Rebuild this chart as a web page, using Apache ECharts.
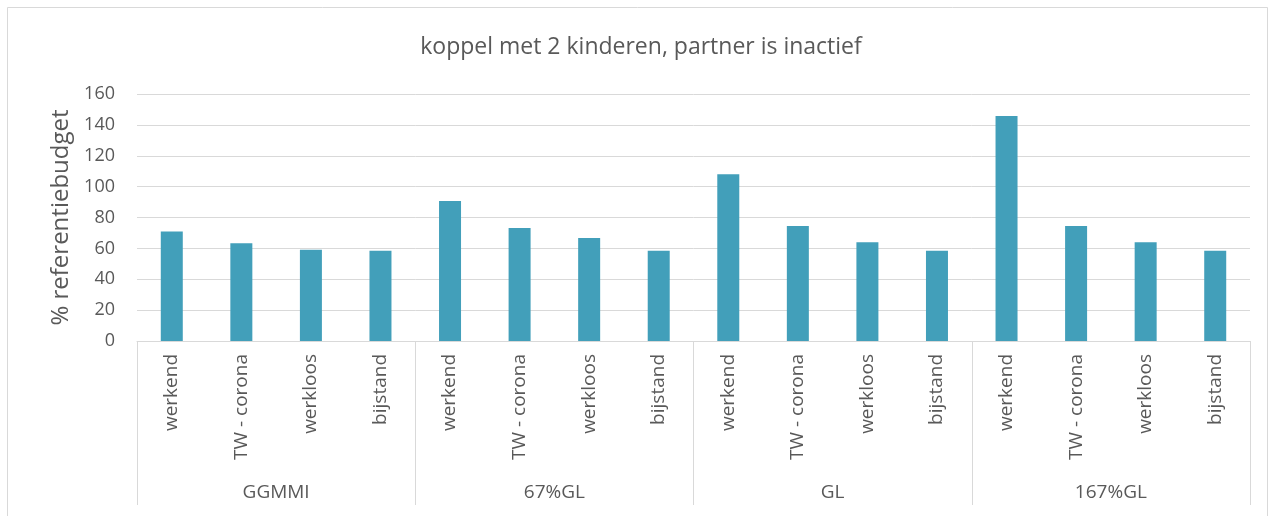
<!DOCTYPE html>
<html>
<head>
<meta charset="utf-8">
<script src="https://cdn.jsdelivr.net/npm/echarts@6/dist/echarts.min.js"></script>
<style>
html,body{margin:0;padding:0;background:#fff;}
#c{width:1282px;height:516px;}
</style>
</head>
<body>
<div id="c"></div>
<script>
const titleText = 'koppel met 2 kinderen, partner is inactief';
const yAxisName = '% referentiebudget';
const groups = ['GGMMI', '67%GL', 'GL', '167%GL'];
const statuses = ['werkend', 'TW - corona', 'werkloos', 'bijstand'];
const values = [
  71, 63.3, 59.1, 58.5,
  90.7, 73.2, 66.7, 58.5,
  108, 74.5, 63.9, 58.5,
  145.7, 74.5, 63.9, 58.5
];
const yTicks = [0, 20, 40, 60, 80, 100, 120, 140, 160];

const categories = [];
groups.forEach(function (g) { statuses.forEach(function (s) { categories.push(s); }); });

const FONT = 'Open Sans';
const TXT = '#595959';
const GRIDC = '#d9d9d9';

const chart = echarts.init(document.getElementById('c'), null, {renderer: 'canvas'});
chart.setOption({
  animation: false,
  backgroundColor: '#ffffff',
  textStyle: {fontFamily: FONT, color: TXT},
  title: {
    text: titleText,
    left: 'center',
    top: 31,
    textStyle: {fontFamily: FONT, fontSize: 23, fontWeight: 'normal', color: TXT}
  },
  graphic: [{
    type: 'rect',
    shape: {x: 7.5, y: 7.5, width: 1260, height: 520},
    style: {fill: 'none', stroke: GRIDC, lineWidth: 1},
    silent: true
  }],
  grid: {left: 137, right: 32, top: 94, bottom: 175},
  xAxis: [{
    type: 'category',
    data: categories,
    position: 'bottom',
    axisLine: {show: true, lineStyle: {color: GRIDC, width: 1}},
    axisTick: {show: false},
    axisLabel: {interval: 0, rotate: 90, margin: 13, fontSize: 19, color: TXT, fontFamily: FONT}
  }, {
    type: 'category',
    data: groups,
    position: 'bottom',
    axisLine: {show: false},
    axisTick: {show: true, interval: 0, length: 164, lineStyle: {color: GRIDC, width: 1}},
    axisLabel: {interval: 0, margin: 142, fontSize: 19, color: TXT, fontFamily: FONT}
  }],
  yAxis: {
    type: 'value',
    min: yTicks[0],
    max: yTicks[yTicks.length - 1],
    interval: 20,
    name: yAxisName,
    nameLocation: 'middle',
    nameRotate: 90,
    nameGap: 63,
    nameTextStyle: {fontSize: 24, color: TXT, fontFamily: FONT},
    axisLine: {show: false},
    axisTick: {show: false},
    axisLabel: {fontSize: 18, color: TXT, margin: 22, fontFamily: FONT},
    splitLine: {lineStyle: {color: GRIDC, width: 1}}
  },
  series: [{
    type: 'bar',
    xAxisIndex: 0,
    data: values,
    barWidth: 22,
    itemStyle: {color: '#429fba'}
  }]
});
</script>
</body>
</html>
